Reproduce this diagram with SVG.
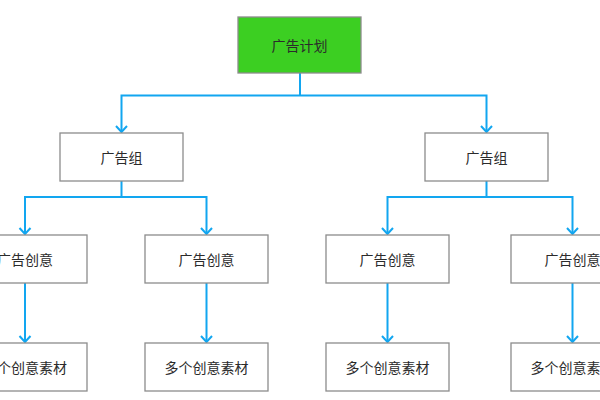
<svg xmlns="http://www.w3.org/2000/svg" width="600" height="400" viewBox="0 0 600 400">
<defs>
<style>
.box{fill:#fff;stroke:#8c8c8c;stroke-width:1.3}
.top{fill:#3ccf22;stroke:#8c8c8c;stroke-width:1.3}
.t{font-family:"Noto Sans CJK SC","Noto Sans",sans-serif;font-size:14px;fill:#2b2b2b;text-anchor:middle;dominant-baseline:central}
.ln{fill:none;stroke:#12a6f0;stroke-width:2}
.ah{fill:none;stroke:#12a6f0;stroke-width:2}
</style>
</defs>
<rect width="600" height="400" fill="#fff"/>
<g id="connectors">
<path class="ln" d="M300 73V95.5H121.5V132M300 95.5H486.5V132"/>
<path class="ah" d="M116 126L121.5 132L127 126M481 126L486.5 132L492 126"/>
<path class="ln" d="M121.5 181V197H25V234M121.5 197H206.5V234"/>
<path class="ln" d="M486.5 181V197H387.5V234M486.5 197H572.5V234"/>
<path class="ah" d="M19.5 228L25 234L30.5 228M201 228L206.5 234L212 228M382 228L387.5 234L393 228M567 228L572.5 234L578 228"/>
<path class="ln" d="M25 283V342M206.5 283V342M387.5 283V342M572.5 283V342"/>
<path class="ah" d="M19.5 336L25 342L30.5 336M201 336L206.5 342L212 336M382 336L387.5 342L393 336M567 336L572.5 342L578 336"/>
</g>
<g id="plan"><rect class="top" x="238" y="17" width="123" height="56"/><text class="t" x="299.5" y="45">广告计划</text></g>
<g id="group1"><rect class="box" x="60" y="133" width="123" height="48"/><text class="t" x="121.5" y="157">广告组</text></g>
<g id="group2"><rect class="box" x="425" y="133" width="123" height="48"/><text class="t" x="486.5" y="157">广告组</text></g>
<g id="idea1"><rect class="box" x="-36" y="235" width="123" height="48"/><text class="t" x="25" y="259">广告创意</text></g>
<g id="idea2"><rect class="box" x="145" y="235" width="123" height="48"/><text class="t" x="206.5" y="259">广告创意</text></g>
<g id="idea3"><rect class="box" x="326" y="235" width="123" height="48"/><text class="t" x="387.5" y="259">广告创意</text></g>
<g id="idea4"><rect class="box" x="511" y="235" width="123" height="48"/><text class="t" x="572.5" y="259">广告创意</text></g>
<g id="mat1"><rect class="box" x="-36" y="343" width="123" height="48"/><text class="t" x="25" y="367">多个创意素材</text></g>
<g id="mat2"><rect class="box" x="145" y="343" width="123" height="48"/><text class="t" x="206.5" y="367">多个创意素材</text></g>
<g id="mat3"><rect class="box" x="326" y="343" width="123" height="48"/><text class="t" x="387.5" y="367">多个创意素材</text></g>
<g id="mat4"><rect class="box" x="511" y="343" width="123" height="48"/><text class="t" x="572.5" y="367">多个创意素材</text></g>
</svg>
